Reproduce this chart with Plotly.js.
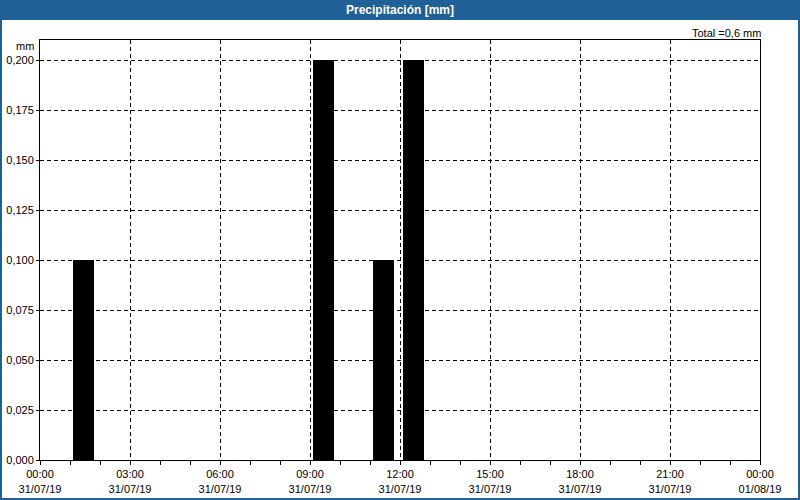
<!DOCTYPE html>
<html>
<head>
<meta charset="utf-8">
<script src="https://cdn.plot.ly/plotly-3.0.1.min.js"></script>
<style>html,body{margin:0;padding:0;background:#fff;}#chart{width:800px;height:500px;}</style>
</head>
<body>
<div id="chart"></div>
<script>
// Data
const times = ["2019-07-31 01:27", "2019-07-31 09:27", "2019-07-31 11:27", "2019-07-31 12:27"];
const precip = [0.1, 0.2, 0.1, 0.2];
const barWidthMs = 42 * 60 * 1000;
const chartTitle = "Precipitación [mm]";
const totalText = "Total =0,6 mm";
const unitText = "mm";

const W = 800, H = 500, L = 40, R = 40, T = 40, B = 40;
const pw = W - L - R, ph = H - T - B;
const px = v => (v - L) / pw;          // pixel x -> paper x
const py = v => 1 - (v - T) / ph;      // pixel y -> paper y
const font = {family: "Liberation Sans, Arial, sans-serif", size: 11, color: "#000"};

const trace = {
  type: "bar",
  x: times,
  y: precip,
  width: times.map(() => barWidthMs),
  marker: {color: "#000", line: {width: 0}},
  hoverinfo: "x+y"
};

const layout = {
  width: W, height: H,
  margin: {l: L, r: R, t: T, b: B, pad: 0},
  paper_bgcolor: "#fff",
  plot_bgcolor: "#fff",
  separators: ",.",
  showlegend: false,
  font: font,
  bargap: 0,
  xaxis: {
    type: "date",
    range: ["2019-07-31 00:00", "2019-08-01 00:00"],
    tick0: "2019-07-31 00:00",
    dtick: 3 * 3600000,
    tickformat: "%H:%M<br>%d/%m/%y",
    showgrid: true, gridcolor: "#000", griddash: "4px,3px", gridwidth: 1,
    showline: true, linecolor: "#000", linewidth: 1, mirror: true,
    ticks: "outside", ticklen: 4, tickcolor: "#000",
    minor: {dtick: 3600000, tick0: "2019-07-31 00:00", ticks: "outside", ticklen: 4, tickcolor: "#000", showgrid: false},
    zeroline: false,
    tickfont: font,
    fixedrange: true
  },
  yaxis: {
    range: [0, 0.21],
    tick0: 0, dtick: 0.025,
    tickformat: ".3f",
    showgrid: true, gridcolor: "#000", griddash: "4px,3px", gridwidth: 1,
    showline: true, linecolor: "#000", linewidth: 1, mirror: true,
    ticks: "outside", ticklen: 3, tickcolor: "#000",
    zeroline: false,
    tickfont: font,
    fixedrange: true
  },
  shapes: [
    {type: "rect", xref: "paper", yref: "paper", layer: "below",
     x0: px(0), x1: px(W), y0: py(0), y1: py(20),
     fillcolor: "#1f6096", line: {width: 0}},
    {type: "rect", xref: "paper", yref: "paper", layer: "above",
     x0: px(1), x1: px(W - 1), y0: py(1), y1: py(H - 1),
     fillcolor: "rgba(0,0,0,0)", line: {color: "#1f6096", width: 2}}
  ],
  annotations: [
    {text: "<b>" + chartTitle + "</b>", xref: "paper", yref: "paper",
     x: px(W / 2), y: py(10), xanchor: "center", yanchor: "middle",
     showarrow: false, font: {family: "Liberation Sans, Arial, sans-serif", size: 12, color: "#fff"}},
    {text: totalText, xref: "paper", yref: "paper",
     x: px(763), y: py(33), xanchor: "right", yanchor: "middle",
     showarrow: false, font: font},
    {text: unitText, xref: "paper", yref: "paper",
     x: px(36), y: py(46), xanchor: "right", yanchor: "middle",
     showarrow: false, font: font}
  ]
};

Plotly.newPlot("chart", [trace], layout, {displayModeBar: false, staticPlot: true});
</script>
</body>
</html>
